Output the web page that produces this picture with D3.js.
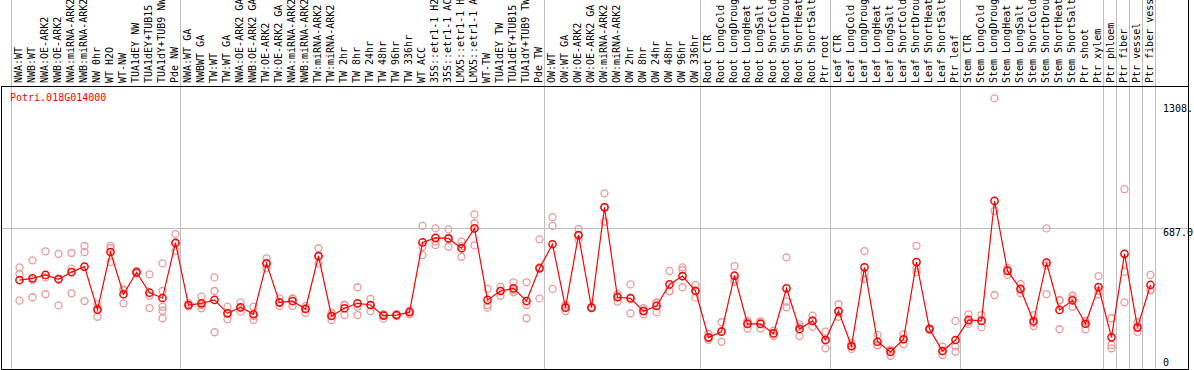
<!DOCTYPE html>
<html lang="en">
<head>
    <meta charset="UTF-8">
    <title>Potri.018G014000</title>
    <script src="https://cdn.jsdelivr.net/npm/d3@7/dist/d3.min.js"></script>
    <style>
        body { margin: 0; background: #fff; }
        text { font-family: "DejaVu Sans Mono", monospace; font-size: 10px; }
        .sep { stroke: #c0c0c0; stroke-width: 1px; }
        .frame { stroke: #000; stroke-width: 1px; fill: none; }
        .line { fill: none; stroke: red; stroke-width: 1.2px; }
    </style>
</head>
<body>
    <div id="charts"></div>
    <script>
        // sample names, one column each
        const samples = [
            "NWA:WT", "NWB:WT", "NWA:OE-ARK2", "NWB:OE-ARK2", "NWA:miRNA-ARK2", "NWB:miRNA-ARK2",
            "NW 0hr", "WT H2O", "WT-NW", "TUA1dEY NW", "TUA1dEY+TUB15 NW", "TUA1dY+TUB9 NW", "Pde NW",
            "NWA:WT GA", "NWBWT GA", "TW:WT", "TW:WT GA", "NWA:OE-ARK2 GA", "NWB:OE-ARK2 GA",
            "TW:OE-ARK2", "TW:OE-ARK2 GA", "NWA:miRNA-ARK2 GA", "NWB:miRNA-ARK2 GA", "TW:miRNA-ARK2",
            "TW:miRNA-ARK2 GA", "TW 2hr", "TW 8hr", "TW 24hr", "TW 48hr", "TW 96hr", "TW 336hr",
            "WT ACC", "35S::etr1-1 H2O", "35S::etr1-1 ACC", "LMX5::etr1-1 H2O", "LMX5::etr1-1 ACC",
            "WT-TW", "TUA1dEY TW", "TUA1dEY+TUB15 TW", "TUA1dY+TUB9 TW", "Pde TW",
            "OW:WT", "OW:WT GA", "OW:OE-ARK2", "OW:OE-ARK2 GA", "OW:miRNA-ARK2", "OW:miRNA-ARK2 GA",
            "OW 2hr", "OW 8hr", "OW 24hr", "OW 48hr", "OW 96hr", "OW 336hr",
            "Root CTR", "Root LongCold", "Root LongDrought", "Root LongHeat", "Root LongSalt",
            "Root ShortCold", "Root ShortDrought", "Root ShortHeat", "Root ShortSalt", "Ptr root",
            "Leaf CTR", "Leaf LongCold", "Leaf LongDrought", "Leaf LongHeat", "Leaf LongSalt",
            "Leaf ShortCold", "Leaf ShortDrought", "Leaf ShortHeat", "Leaf ShortSalt", "Ptr leaf",
            "Stem CTR", "Stem LongCold", "Stem LongDrought", "Stem LongHeat", "Stem LongSalt",
            "Stem ShortCold", "Stem ShortDrought", "Stem ShortHeat", "Stem ShortSalt", "Ptr shoot",
            "Ptr xylem", "Ptr phloem", "Ptr fiber", "Ptr vessel", "Ptr fiber vessel"
        ];

        // mean expression per sample
        const means = [
            412, 421, 439, 416, 454, 483, 255, 560, 337, 453, 345, 317, 609,
            280, 289, 307, 236, 268, 231, 500, 294, 301, 259, 539, 222, 263, 289, 280, 224, 227, 242,
            611, 635, 632, 580, 685, 307, 354, 368, 301, 474,
            601, 266, 650, 266, 796, 321, 315, 248, 275, 389, 433, 354,
            109, 139, 435, 180, 180, 130, 368, 153, 196, 95,
            248, 63, 479, 86, 32, 99, 507, 153, 37, 95,
            201, 196, 830, 460, 365, 194, 504, 254, 305, 181, 375,
            109, 550, 162, 386
        ];

        // replicate values per sample
        const replicates = [
            [479, 444, 303], [516, 412, 321], [564, 426, 337], [550, 420, 278], [555, 472, 342],
            [592, 559, 301], [285, 262, 218], [593, 580, 507], [363, 358, 289], [460, 453, 446],
            [442, 330, 264], [500, 354, 271, 250, 210], [655, 606, 567],
            [290, 272, 278], [324, 280, 263], [426, 354, 136], [271, 236, 205], [294, 265, 245],
            [271, 221, 201], [527, 500, 474], [315, 292, 275], [315, 313, 275], [275, 263, 239],
            [580, 537, 500], [239, 226, 201], [280, 282, 227], [374, 271, 227], [312, 280, 248],
            [232, 232, 208], [232, 227, 222], [250, 245, 231],
            [698, 588, 544], [685, 615, 597], [680, 630, 588], [615, 590, 535], [759, 712, 595],
            [365, 280, 266], [377, 356, 329], [400, 357, 347], [400, 280, 210], [627, 480, 315],
            [744, 698, 365], [280, 270, 248], [682, 644, 624], [270, 266, 262], [870, 798, 720],
            [338, 327, 298], [389, 320, 236], [263, 250, 231], [294, 289, 242], [460, 354, 352],
            [479, 465, 374], [386, 357, 319],
            [127, 104, 96], [189, 142, 86], [486, 416, 403], [197, 187, 156], [190, 194, 156],
            [144, 130, 116], [532, 298, 268], [178, 165, 116], [224, 199, 165], [139, 95, 51],
            [284, 242, 218], [78, 63, 48], [565, 448, 417], [122, 67, 69], [12, 40, 44],
            [125, 98, 74], [593, 474, 454], [158, 153, 148], [60, 35, 16], [196, 60, 33],
            [231, 192, 180], [227, 199, 162], [1372, 777, 333], [465, 476, 439], [391, 362, 342],
            [227, 186, 169], [685, 489, 338], [307, 303, 152], [329, 315, 271], [197, 194, 152],
            [433, 355, 337],
            [210, 69, 51], [892, 456, 294], [189, 158, 139], [439, 359, 359]
        ];

        // group separators (index of first sample after a line)
        const separators = [0, 13, 41, 53, 63, 73, 84, 85, 86, 87, 88];

        // y ticks
        const tickValues = [0, 687, 1374];
        const tickLabels = ["0", "687.0", "1308."];

        const geneName = "Potri.018G014000";

        const width = 1194, height = 370;
        const plot = { left: 1.5, right: 1188.5, top: 86.5, bottom: 369.5 };

        const x = d3.scaleLinear().domain([0, samples.length - 1]).range([19.5, 19.5 + 13 * (samples.length - 1)]);
        const y = d3.scaleLinear().domain([0, 1374]).range([358, 98]);
        const step = x(1) - x(0);

        const svg = d3.select("#charts")
            .append("svg")
            .attr("width", width)
            .attr("height", height);

        // grid line in the middle
        svg.append("line").attr("class", "sep")
            .attr("x1", plot.left).attr("x2", plot.right)
            .attr("y1", Math.round(y(tickValues[1])) + 0.5).attr("y2", Math.round(y(tickValues[1])) + 0.5);

        // vertical group lines
        svg.selectAll(".vsep")
            .data(separators)
            .enter().append("line")
            .attr("class", "sep")
            .attr("x1", d => Math.round(x(d) - 8.5) + 0.5)
            .attr("x2", d => Math.round(x(d) - 8.5) + 0.5)
            .attr("y1", 0).attr("y2", plot.bottom);

        // frame
        svg.append("line").attr("class", "frame")
            .attr("x1", plot.left).attr("x2", plot.right).attr("y1", plot.top).attr("y2", plot.top);
        svg.append("line").attr("class", "frame")
            .attr("x1", plot.left).attr("x2", plot.right).attr("y1", plot.bottom).attr("y2", plot.bottom);
        svg.append("line").attr("class", "frame")
            .attr("x1", plot.left).attr("x2", plot.left).attr("y1", plot.top).attr("y2", plot.bottom);
        svg.append("line").attr("class", "frame")
            .attr("x1", plot.right).attr("x2", plot.right).attr("y1", 0).attr("y2", plot.bottom);

        // rotated sample labels
        svg.selectAll(".lab")
            .data(samples)
            .enter().append("text")
            .attr("transform", (d, i) => "translate(" + (x(i) + 2.5) + ",83) rotate(-90)")
            .attr("fill", "#000")
            .text(d => d);

        // y labels
        svg.selectAll(".ylab")
            .data(tickValues)
            .enter().append("text")
            .attr("x", 1163)
            .attr("y", d => Math.max(y(d) + 7.5, 111.5))
            .attr("fill", "#000")
            .text((d, i) => tickLabels[i]);

        // gene id
        svg.append("text")
            .attr("x", 10).attr("y", 101)
            .attr("fill", "red")
            .text(geneName);

        // replicate circles
        const reps = [];
        replicates.forEach((r, i) => r.forEach(v => reps.push({ i: i, v: v })));
        svg.selectAll(".rep")
            .data(reps)
            .enter().append("circle")
            .attr("cx", d => x(d.i))
            .attr("cy", d => y(d.v))
            .attr("r", 3.5)
            .attr("fill", "none")
            .attr("stroke", "#eb9a9a")
            .attr("stroke-width", 1.3);

        // mean line
        const valueLine = d3.line()
            .x((d, i) => x(i))
            .y(d => y(d));
        svg.append("path")
            .datum(means)
            .attr("class", "line")
            .attr("d", valueLine);

        svg.selectAll(".mean")
            .data(means)
            .enter().append("circle")
            .attr("cx", (d, i) => x(i))
            .attr("cy", d => y(d))
            .attr("r", 3.6)
            .attr("fill", "none")
            .attr("stroke", "red")
            .attr("stroke-width", 1.5);
    </script>
</body>
</html>
